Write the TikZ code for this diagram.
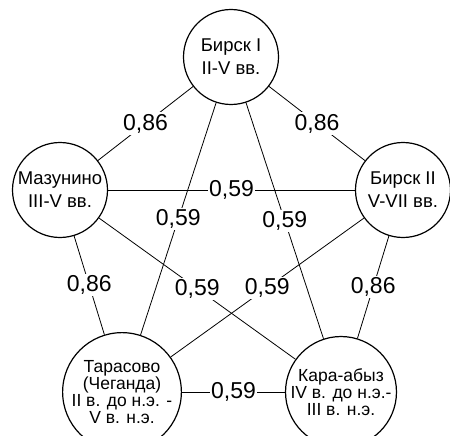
\documentclass[tikz,border=0pt]{standalone}
\usepackage{fontspec}
\setmainfont{Liberation Sans}
\begin{document}
\begin{tikzpicture}[x=1pt,y=-1pt,
 site/.style={circle,draw,line width=1.2pt,minimum size=95pt,inner sep=0pt,align=center,font=\fontsize{18.5}{23}\selectfont},
 tight/.style={font=\fontsize{17.5}{17}\selectfont},
 link/.style={line width=0.8pt},
 val/.style={fill=white,inner sep=1.5pt,font=\fontsize{23}{24}\selectfont}]
\useasboundingbox (0,0) rectangle (450,436);
\node[site] (b1) at (231,57) {Бирск I\\II-V вв.};
\node[site] (maz) at (60,190) {Мазунино\\III-V вв.};
\node[site] (b2) at (403,190) {Бирск II\\V-VII вв.};
\node[site,tight] (tar) at (122,392) {Тарасово\\(Чеганда)\\II в. до н.э. -\\V в. н.э.};
\node[site,tight,minimum size=100pt] (kar) at (341,392) {Кара-абыз\\IV в. до н.э.-\\III в. н.э.};
\draw[link] (b1) -- node[val]{0,86} (maz);
\draw[link] (b1) -- node[val]{0,86} (b2);
\draw[link] (maz) -- node[val]{0,59} (b2);
\draw[link] (maz) -- node[val]{0,86} (tar);
\draw[link] (b2) -- node[val]{0,86} (kar);
\draw[link] (tar) -- node[val]{0,59} (kar);
\draw[link] (b1) -- node[val]{0,59} (tar);
\draw[link] (b1) -- node[val]{0,59} (kar);
\draw[link] (maz) -- node[val]{0,59} (kar);
\draw[link] (b2) -- node[val]{0,59} (tar);
\end{tikzpicture}
\end{document}
